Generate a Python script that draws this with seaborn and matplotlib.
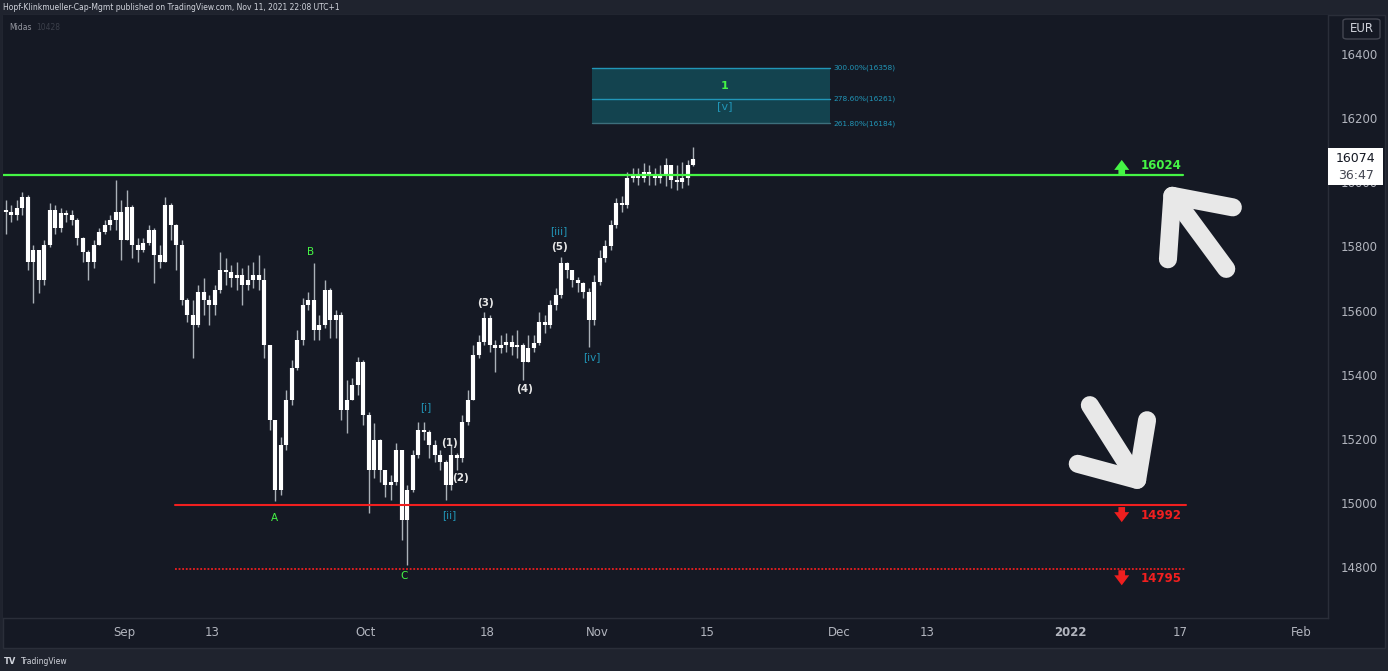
import matplotlib
matplotlib.use("Agg")
import matplotlib.pyplot as plt
import matplotlib.transforms as mtransforms
from matplotlib.patches import Rectangle, FancyBboxPatch
import numpy as np
import pandas as pd
import seaborn as sns

# DAX half-day candles, 17 Aug - 11 Nov 2021
first_open = 15913
close = [15907, 15898, 15920, 15954, 15751, 15789, 15695, 15804, 15913, 15857,
         15904, 15898, 15882, 15826, 15782, 15751, 15804, 15845, 15867, 15882,
         15907, 15820, 15923, 15804, 15789, 15810, 15851, 15773, 15751, 15929,
         15867, 15804, 15633, 15586, 15555, 15658, 15633, 15617, 15664, 15726,
         15720, 15701, 15711, 15680, 15695, 15711, 15695, 15492, 15258, 15040,
         15180, 15321, 15421, 15508, 15617, 15633, 15539, 15555, 15664, 15570,
         15586, 15290, 15321, 15368, 15439, 15274, 15103, 15196, 15103, 15056,
         15065, 15165, 14947, 15040, 15149, 15227, 15221, 15180, 15149, 15127,
         15056, 15149, 15140, 15252, 15321, 15461, 15502, 15577, 15492, 15483,
         15492, 15502, 15486, 15492, 15439, 15483, 15499, 15564, 15555, 15617,
         15648, 15748, 15726, 15695, 15686, 15658, 15570, 15689, 15764, 15801,
         15867, 15935, 15929, 16013, 16023, 16013, 16032, 16019, 16013, 16019,
         16054, 16007, 16001, 16013, 16054, 16074]
high = [15945, 15929, 15945, 15970, 15960, 15804, 15789, 15820, 15935, 15929,
        15920, 15913, 15913, 15888, 15829, 15789, 15820, 15857, 15882, 15898,
        16007, 15945, 15976, 15929, 15826, 15826, 15867, 15857, 15804, 15954,
        15935, 15870, 15820, 15639, 15633, 15680, 15701, 15648, 15680, 15782,
        15764, 15742, 15751, 15732, 15742, 15751, 15773, 15732, 15492, 15260,
        15205, 15352, 15446, 15539, 15639, 15658, 15748, 15586, 15695, 15670,
        15602, 15595, 15383, 15389, 15455, 15446, 15283, 15249, 15200, 15103,
        15087, 15187, 15165, 15056, 15165, 15252, 15252, 15227, 15196, 15165,
        15134, 15180, 15155, 15274, 15352, 15492, 15523, 15595, 15586, 15508,
        15523, 15530, 15523, 15539, 15499, 15523, 15523, 15595, 15586, 15633,
        15670, 15767, 15751, 15726, 15704, 15689, 15670, 15711, 15789, 15820,
        15882, 15951, 15957, 16032, 16044, 16044, 16060, 16054, 16044, 16054,
        16076, 16054, 16054, 16063, 16069, 16110]
low = [15839, 15876, 15882, 15898, 15726, 15623, 15655, 15680, 15798, 15839,
       15845, 15876, 15867, 15804, 15751, 15695, 15732, 15804, 15839, 15851,
       15851, 15757, 15820, 15764, 15751, 15782, 15804, 15686, 15732, 15751,
       15820, 15726, 15617, 15564, 15452, 15550, 15586, 15555, 15586, 15655,
       15680, 15673, 15664, 15617, 15664, 15670, 15664, 15452, 15227, 15006,
       15024, 15165, 15305, 15414, 15492, 15602, 15508, 15508, 15545, 15514,
       15514, 15258, 15218, 15321, 15336, 15243, 14968, 15078, 15065, 15018,
       15009, 15056, 14884, 14805, 15034, 15140, 15196, 15140, 15127, 15103,
       15009, 15040, 15103, 15127, 15243, 15321, 15452, 15492, 15470, 15408,
       15467, 15470, 15461, 15452, 15383, 15439, 15470, 15492, 15530, 15545,
       15602, 15639, 15701, 15673, 15658, 15639, 15486, 15555, 15680, 15751,
       15789, 15857, 15907, 15920, 16001, 15991, 16001, 15991, 15991, 15998,
       15988, 15982, 15976, 15982, 15991, 16050]

# time axis (trading-day index from 17 Aug)
tick_days = [11, 19, 33, 44, 54, 64, 76, 84, 97, 107, 118]
tick_labels = ["Sep", "13", "Oct", "18", "Nov", "15", "Dec", "13", "2022", "17", "Feb"]
price_ticks = [14800, 15000, 15200, 15400, 15600, 15800, 16000, 16200, 16400]

resistance = 16024
supports = [14992, 14795]
fib_levels = [16358, 16261, 16184]
fib_pcts = ["300.00%", "278.60%", "261.80%"]
last_price = 16074
countdown = "36:47"

# Elliott wave labels: text, trading day, price
abc_labels = [("A", 24.7, 14953), ("B", 28.0, 15782), ("C", 36.5, 14772)]
minor_labels = [("(1)", 40.6, 15187), ("(2)", 41.6, 15078), ("(3)", 43.9, 15623),
                ("(4)", 47.4, 15355), ("(5)", 50.6, 15798)]
minute_labels = [("[i]", 38.4, 15299), ("[ii]", 40.6, 14962), ("[iii]", 50.5, 15848),
                 ("[iv]", 53.5, 15455)]

BG = "#151924"
FRAME = "#1f232e"
TXT = "#b2b5be"
GREEN = "#45f545"
RED = "#f01f1f"
TEAL = "#2196b8"

sns.set_theme(style="dark")
plt.rcParams["font.family"] = ["DejaVu Sans"]

df = pd.DataFrame({"close": close, "high": high, "low": low})
df["open"] = [first_open] + close[:-1]
df["day"] = np.arange(len(df)) * 0.5 + 0.25
df["bottom"] = df[["open", "close"]].min(axis=1)
df["top"] = df["bottom"] + (df["close"] - df["open"]).abs().clip(lower=5)

W, H = 1388, 671
fig = plt.figure(figsize=(W / 100, H / 100), dpi=100, facecolor=FRAME)


def fx(px):
    return px / W


def fy(py):
    return 1 - py / H


fig.patches.append(Rectangle((fx(3), fy(648)), fx(1382), 633 / H, transform=fig.transFigure,
                             facecolor=BG, edgecolor="#2a2e39", lw=1, zorder=-10))

ax = fig.add_axes([fx(3), fy(618), fx(1325), 603 / H])
ax.set_facecolor(BG)
ax.set_xlim(0, 120.45)
ax.set_ylim(14641, 16522)

# candles: wick then solid body
ax.vlines(df["day"], df["low"], df["high"], color="#aab1b8", lw=1.0, zorder=3)
ax.vlines(df["day"], df["bottom"], df["top"], color="#ffffff", lw=3.0, zorder=4,
          capstyle="butt")

# levels
ax.plot([0, 107.3], [resistance, resistance], color=GREEN, lw=1.6, zorder=5)
ax.plot([15.6, 107.5], [supports[0], supports[0]], color=RED, lw=1.5, zorder=5)
ax.plot([15.6, 107.5], [supports[1], supports[1]], color=RED, lw=1.3, ls=(0, (1, 1)), zorder=5)

arrow_props = dict(arrowstyle="simple,head_width=0.9,head_length=0.6,tail_width=0.4",
                   lw=0, shrinkA=0, shrinkB=0)
ax.annotate("", xy=(101.7, resistance + 46), xytext=(101.7, resistance),
            arrowprops=dict(color=GREEN, **arrow_props))
ax.text(105.3, resistance + 30, f"{resistance}", color=GREEN, fontsize=8.5, fontweight="bold",
        ha="center", va="center")
for lvl in supports:
    ax.annotate("", xy=(101.7, lvl - 52), xytext=(101.7, lvl - 5),
                arrowprops=dict(color=RED, **arrow_props))
    ax.text(105.3, lvl - 30, f"{lvl}", color=RED, fontsize=8.5, fontweight="bold",
            ha="center", va="center")

# fib target box
ax.add_patch(Rectangle((53.55, fib_levels[2]), 21.63, fib_levels[0] - fib_levels[2],
                       facecolor="#13434f", edgecolor="none", zorder=2))
for lvl, pct, col in zip(fib_levels, fib_pcts, [TEAL, TEAL, "#3d6f7c"]):
    ax.plot([53.55, 75.18], [lvl, lvl], color=col, lw=1, zorder=2)
    ax.text(75.45, lvl, f"{pct}({lvl})", color=TEAL, fontsize=5.3, ha="left", va="center")
ax.text(65.6, 16300, "1", color=GREEN, fontsize=8, fontweight="bold", ha="center", va="center")
ax.text(65.6, 16238, "[v]", color=TEAL, fontsize=8, ha="center", va="center")

# wave labels
for t, d, p in abc_labels:
    ax.text(d, p, t, color=GREEN, fontsize=7.5, ha="center", va="center")
for t, d, p in minor_labels:
    ax.text(d, p, t, color="#e6e6e6", fontsize=7.5, fontweight="bold", ha="center", va="center")
for t, d, p in minute_labels:
    ax.text(d, p, t, color=TEAL, fontsize=7.5, ha="center", va="center")

# big hand-drawn arrows
arrow_kw = dict(color="#e8e8e8", lw=13, solid_capstyle="round", solid_joinstyle="round", zorder=6)
ax.plot([111.8, 106.3, 105.9], [15922, 15958, 15760], **arrow_kw)
ax.plot([106.3, 111.2], [15958, 15730], **arrow_kw)
ax.plot([97.7, 103.1, 104.0], [15122, 15072, 15258], **arrow_kw)
ax.plot([103.1, 98.8], [15072, 15305], **arrow_kw)

# axes styling
ax.yaxis.tick_right()
ax.set_yticks(price_ticks)
ax.set_yticklabels([str(p) for p in price_ticks])
ax.set_xticks(tick_days)
ax.set_xticklabels(tick_labels)
ax.tick_params(axis="y", length=0, pad=9, labelsize=8.5, labelcolor=TXT)
ax.tick_params(axis="x", length=0, pad=6, labelsize=8.5, labelcolor=TXT)
for lab in ax.get_xticklabels():
    if lab.get_text() == "2022":
        lab.set_fontweight("bold")
ax.grid(False)
for side in ["left", "top", "right", "bottom"]:
    ax.spines[side].set_color("#2a2e39")
    ax.spines[side].set_linewidth(1)
ax.spines["left"].set_visible(False)
ax.spines["top"].set_visible(False)

# last price tag
blend = mtransforms.blended_transform_factory(ax.transAxes, ax.transData)
ax.add_patch(Rectangle((1.0, last_price - 83), 0.0415, 115, transform=blend,
                       facecolor="white", edgecolor="none", clip_on=False, zorder=7))
ax.text(1.021, last_price, f"{last_price}", transform=blend, color="#131722", fontsize=9,
        ha="center", va="center", clip_on=False, zorder=8)
ax.text(1.021, last_price - 54, countdown, transform=blend, color="#434651", fontsize=9,
        ha="center", va="center", clip_on=False, zorder=8)

# header, legend, currency, footer
fig.text(fx(3), fy(7.5), "Hopf-Klinkmueller-Cap-Mgmt published on TradingView.com, Nov 11, 2021 22:08 UTC+1",
         color="#d1d4dc", fontsize=5.5, ha="left", va="center")
fig.text(fx(9), fy(28), "Midas", color="#9598a1", fontsize=5.5, ha="left", va="center")
fig.text(fx(36), fy(28), "10428", color="#3b3f4a", fontsize=5.5, ha="left", va="center")
fig.patches.append(FancyBboxPatch((fx(1343), fy(39)), fx(37), 20 / H, transform=fig.transFigure,
                                  boxstyle="round,pad=0,rounding_size=0.003",
                                  facecolor=BG, edgecolor="#434651", lw=1))
fig.text(fx(1361.5), fy(29), "EUR", color="#d1d4dc", fontsize=8.5, ha="center", va="center")
fig.text(fx(4), fy(661.5), "TV", color="#d1d4dc", fontsize=6, fontweight="bold", ha="left", va="center")
fig.text(fx(21), fy(661.5), "TradingView", color="#d1d4dc", fontsize=5.5, ha="left", va="center")

fig.savefig("out.png", dpi=100, facecolor=FRAME)
